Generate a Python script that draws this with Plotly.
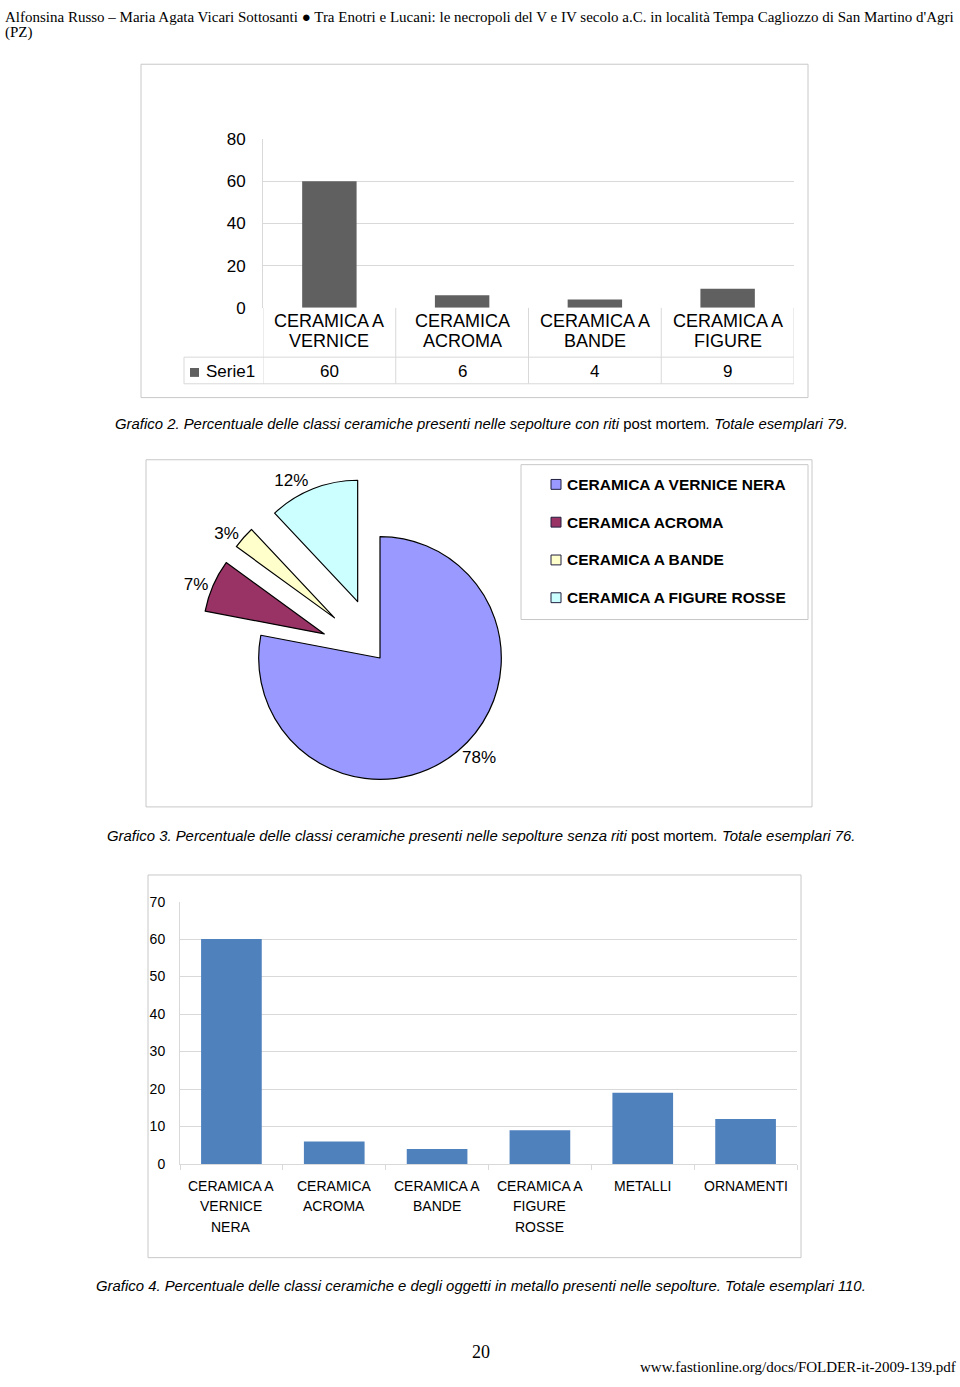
import plotly.graph_objects as go

# ---------------- data ----------------
g2_categories = ["CERAMICA A\nVERNICE", "CERAMICA\nACROMA", "CERAMICA A\nBANDE", "CERAMICA A\nFIGURE"]
g2_values = [60, 6, 4, 9]
g2_series = "Serie1"
g2_yticks = [0, 20, 40, 60, 80]

g3_labels = ["CERAMICA A VERNICE NERA", "CERAMICA ACROMA", "CERAMICA A BANDE", "CERAMICA A FIGURE ROSSE"]
g3_values = [78, 7, 3, 12]
g3_pull = [0, 0.5, 0.5, 0.5]

g4_categories = ["CERAMICA A\nVERNICE\nNERA", "CERAMICA\nACROMA", "CERAMICA A\nBANDE",
                 "CERAMICA A\nFIGURE\nROSSE", "METALLI", "ORNAMENTI"]
g4_values = [60, 6, 4, 9, 19, 12]
g4_yticks = [0, 10, 20, 30, 40, 50, 60, 70]

header_line1 = ("Alfonsina Russo \u2013 Maria Agata Vicari Sottosanti \u25cf Tra Enotri e Lucani: le necropoli del V e IV "
                "secolo a.C. in localit\u00e0 Tempa Cagliozzo di San Martino d'Agri")
header_line2 = "(PZ)"
cap2 = ("<i>Grafico 2. Percentuale delle classi ceramiche presenti nelle sepolture con riti</i> post mortem<i>. "
        "Totale esemplari 79.</i>")
cap3 = ("<i>Grafico 3. Percentuale delle classi ceramiche presenti nelle sepolture senza riti</i> post mortem<i>. "
        "Totale esemplari 76.</i>")
cap4 = ("<i>Grafico 4. Percentuale delle classi ceramiche e degli oggetti in metallo presenti nelle sepolture. "
        "Totale esemplari 110.</i>")
page_no = "20"
url = "www.fastionline.org/docs/FOLDER-it-2009-139.pdf"

# ---------------- helpers ----------------
W, H = 960, 1387
def px(x): return x / W
def py(y): return 1 - y / H

SANS = "Liberation Sans, Arial, sans-serif"
SERIF = "Liberation Serif, Times New Roman, serif"
GRID = "#d9d9d9"
BOX = "#c8c8c8"

fig = go.Figure()
shapes = []
ann = []

# ---------------- Grafico 2 (bar + data table) ----------------
g2_names = [c.replace("\n", " ") for c in g2_categories]
fig.add_trace(go.Bar(x=g2_names, y=g2_values, marker=dict(color="#606060", line=dict(width=0)),
                     width=0.41, xaxis="x", yaxis="y", showlegend=False, name=g2_series))

shapes.append(dict(type="rect", xref="paper", yref="paper", x0=px(141), x1=px(808), y0=py(394), y1=py(56),
                   line=dict(color=BOX, width=1)))
bounds = [-0.5, 0.5, 1.5, 2.5, 3.5]
for b in bounds:
    shapes.append(dict(type="line", xref="x", yref="paper", x0=b, x1=b, y0=py(380), y1=py(303),
                       line=dict(color=GRID, width=1)))
for yy in (353, 380):
    shapes.append(dict(type="line", xref="paper", yref="paper", x0=px(184), x1=px(794), y0=py(yy), y1=py(yy),
                       line=dict(color=GRID, width=1)))
shapes.append(dict(type="line", xref="paper", yref="paper", x0=px(184), x1=px(184), y0=py(380), y1=py(353),
                   line=dict(color=GRID, width=1)))
shapes.append(dict(type="rect", xref="paper", yref="paper", x0=px(190), x1=px(199), y0=py(373), y1=py(364),
                   fillcolor="#606060", line=dict(width=0)))
ann.append(dict(text=g2_series, xref="paper", yref="paper", x=px(204), y=py(368), xanchor="left",
                yanchor="middle", showarrow=False, font=dict(family=SANS, size=17, color="black")))
for name, cat, v in zip(g2_names, g2_categories, g2_values):
    for i, line in enumerate(cat.split("\n")):
        ann.append(dict(text=line, xref="x", yref="paper", x=name, y=py(316 + 21 * i), xanchor="center",
                        yanchor="middle", showarrow=False, font=dict(family=SANS, size=18, color="black")))
    ann.append(dict(text=str(v), xref="x", yref="paper", x=name, y=py(368), xanchor="center",
                    yanchor="middle", showarrow=False, font=dict(family=SANS, size=17, color="black")))

# ---------------- Grafico 3 (pie) ----------------
R = 123
cx, cy = 380, 658
half = R * (1 + max(g3_pull))
pie_colors = ["#9999FF", "#993366", "#FFFFCC", "#CCFFFF"]
fig.add_trace(go.Pie(labels=g3_labels, values=g3_values, pull=g3_pull, sort=False, direction="clockwise",
                     rotation=0,
                     marker=dict(colors=pie_colors, line=dict(color="black", width=1.2)),
                     textinfo="percent", textposition="outside", texttemplate="%{percent:.0%}",
                     textfont=dict(family=SANS, size=17, color="black"),
                     domain=dict(x=[px(cx - half), px(cx + half)], y=[py(cy + half), py(cy - half)]),
                     showlegend=False, hoverinfo="label+percent"))
shapes.append(dict(type="rect", xref="paper", yref="paper", x0=px(146), x1=px(812), y0=py(809), y1=py(457),
                   line=dict(color=BOX, width=1)))
shapes.append(dict(type="rect", xref="paper", yref="paper", x0=px(521), x1=px(808), y0=py(619), y1=py(462),
                   line=dict(color=BOX, width=1)))
for i, (lab, col) in enumerate(zip(g3_labels, pie_colors)):
    yc = 482 + 38.3 * i
    shapes.append(dict(type="rect", xref="paper", yref="paper", x0=px(551), x1=px(561), y0=py(yc + 5),
                       y1=py(yc - 5), fillcolor=col, line=dict(color="#202040", width=1)))
    ann.append(dict(text="<b>" + lab + "</b>", xref="paper", yref="paper", x=px(565), y=py(yc),
                    xanchor="left", yanchor="middle", showarrow=False,
                    font=dict(family=SANS, size=15.5, color="black")))

# ---------------- Grafico 4 (bar) ----------------
g4_names = [c.replace("\n", " ") for c in g4_categories]
fig.add_trace(go.Bar(x=g4_names, y=g4_values, marker=dict(color="#4F81BD", line=dict(width=0)),
                     width=0.59, xaxis="x2", yaxis="y2", showlegend=False))
shapes.append(dict(type="rect", xref="paper", yref="paper", x0=px(148), x1=px(801), y0=py(1266), y1=py(878),
                   line=dict(color=BOX, width=1)))
for name, cat in zip(g4_names, g4_categories):
    for i, line in enumerate(cat.split("\n")):
        ann.append(dict(text=line, xref="x2", yref="paper", x=name, y=py(1193 + 21 * i), xanchor="center",
                        yanchor="middle", showarrow=False, font=dict(family=SANS, size=14, color="black")))

# ---------------- page texts ----------------
ann.append(dict(text=header_line1, xref="paper", yref="paper", x=px(3), y=py(8), xanchor="left",
                yanchor="middle", showarrow=False, font=dict(family=SERIF, size=15, color="black")))
ann.append(dict(text=header_line2, xref="paper", yref="paper", x=px(3), y=py(24), xanchor="left",
                yanchor="middle", showarrow=False, font=dict(family=SERIF, size=15, color="black")))
for txt, yy in ((cap2, 421), (cap3, 838), (cap4, 1295)):
    ann.append(dict(text=txt, xref="paper", yref="paper", x=px(481), y=py(yy), xanchor="center",
                    yanchor="middle", showarrow=False, font=dict(family=SANS, size=14.9, color="black")))
ann.append(dict(text=page_no, xref="paper", yref="paper", x=px(481), y=py(1362), xanchor="center",
                yanchor="middle", showarrow=False, font=dict(family=SERIF, size=18, color="black")))
ann.append(dict(text=url, xref="paper", yref="paper", x=px(958), y=py(1377), xanchor="right",
                yanchor="middle", showarrow=False, font=dict(family=SERIF, size=15, color="black")))

fig.update_layout(
    width=W, height=H, margin=dict(l=0, r=0, t=0, b=0),
    paper_bgcolor="white", plot_bgcolor="white", showlegend=False,
    xaxis=dict(domain=[px(263), px(794)], anchor="y", type="category", range=[-0.5, 3.5],
               showticklabels=False, showgrid=False, zeroline=False, showline=False, ticks=""),
    yaxis=dict(domain=[py(303), py(132)], anchor="x", range=[0, 80], tickvals=g2_yticks,
               showgrid=True, gridcolor=GRID, gridwidth=1, zeroline=False, showline=True, linecolor=GRID,
               ticks="", ticklabelstandoff=13, tickfont=dict(family=SANS, size=17, color="black")),
    xaxis2=dict(domain=[px(180), px(797)], anchor="y2", type="category", range=[-0.5, 5.5],
                showticklabels=False, showgrid=False, zeroline=False, showline=True, linecolor=GRID,
                ticks="outside", tickson="boundaries", ticklen=5, tickcolor=GRID),
    yaxis2=dict(domain=[py(1171), py(905)], anchor="x2", range=[0, 70], tickvals=g4_yticks,
                showgrid=True, gridcolor=GRID, gridwidth=1, zeroline=False, showline=True, linecolor=GRID,
                ticks="", ticklabelstandoff=11, tickfont=dict(family=SANS, size=14, color="black")),
    shapes=shapes, annotations=ann,
)

fig.write_html("out.html")
